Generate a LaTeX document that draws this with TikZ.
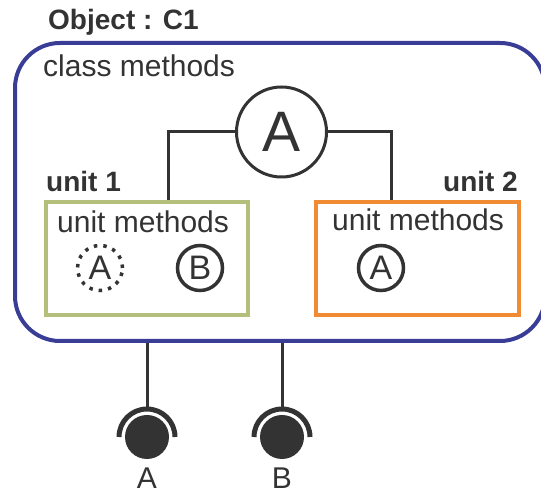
\documentclass[tikz,border=0pt]{standalone}
\usepackage{fontspec}
\setmainfont{Liberation Sans}
\definecolor{ink}{HTML}{333333}
\definecolor{navy}{HTML}{3A3D96}
\definecolor{olive}{HTML}{B3BF7A}
\definecolor{tangerine}{HTML}{F08A33}
\tikzset{
  lbl/.style={inner sep=0pt, text=ink, font=\fontsize{30}{36}\selectfont},
  bold lbl/.style={lbl, font=\fontsize{28}{34}\selectfont\bfseries},
  objbox/.style={draw=navy, line width=4pt, rounded corners=45pt,
    minimum width=530pt, minimum height=298pt, inner sep=0pt},
  unitbox/.style={line width=4pt, minimum width=202pt, minimum height=113pt, inner sep=0pt},
  method/.style={circle, draw=ink, line width=3.5pt, minimum size=45pt, inner sep=0pt,
    text=ink, font=\fontsize{34}{40}\selectfont},
  inherited/.style={method, dash pattern=on 3.5pt off 6pt},
  bigmethod/.style={circle, draw=ink, line width=3pt, minimum size=90pt, inner sep=0pt,
    text=ink, font=\fontsize{57}{64}\selectfont},
  wire/.style={draw=ink, line width=3pt},
  ball/.style={circle, fill=ink, minimum size=44pt, inner sep=0pt},
  socket/.style={draw=ink, line width=5pt},
}
\begin{document}
\begin{tikzpicture}[x=1pt, y=1pt]
  \useasboundingbox (0,0) rectangle (541,494);

  % object frame
  \node[objbox] (obj) at (280,302) {};
  \node[bold lbl, anchor=base west] (title) at (48,464) {Object : C1};
  \node[lbl, anchor=base west] (cm) at (43,417) {class methods};

  % class-level method
  \node[bigmethod] (ca) at (281.5,362) {A};

  % units
  \node[unitbox, draw=olive] (u1) at (147,235.5) {};
  \node[unitbox, draw=tangerine, minimum width=203pt] (u2) at (417.5,235.5) {};
  \node[bold lbl, anchor=base west] (u1name) at (46,302) {unit 1};
  \node[bold lbl, anchor=base east] (u2name) at (518,302) {unit 2};
  \node[lbl, anchor=base west] (u1m) at (57,261) {unit methods};
  \node[lbl, anchor=base west] (u2m) at (332,263) {unit methods};

  \node[inherited] (u1a) at (100,226) {A};
  \node[method] (u1b) at (200,226) {B};
  \node[method] (u2a) at (381,226) {A};

  % links from the class method to each unit
  \coordinate (j1) at ([xshift=124pt]u1.north west);
  \coordinate (j2) at ([xshift=77pt]u2.north west);
  \draw[wire] (ca.west) -| (j1);
  \draw[wire] (ca.east) -| (j2);

  % provided interfaces
  \node[ball] (pa) at (147,57) {};
  \node[ball] (pb) at (282,57) {};
  \coordinate (ta) at ([yshift=28pt]pa.center);
  \coordinate (tb) at ([yshift=28pt]pb.center);
  \draw[wire] (ta |- obj.south) -- (ta);
  \draw[wire] (tb |- obj.south) -- (tb);
  \draw[socket] ([xshift=28pt]pa.center) arc[start angle=0, end angle=180, radius=28pt];
  \draw[socket] ([xshift=28pt]pb.center) arc[start angle=0, end angle=180, radius=28pt];
  \node[lbl, anchor=base] (la) at (147,5) {A};
  \node[lbl, anchor=base] (lb) at (282,5) {B};
\end{tikzpicture}
\end{document}
